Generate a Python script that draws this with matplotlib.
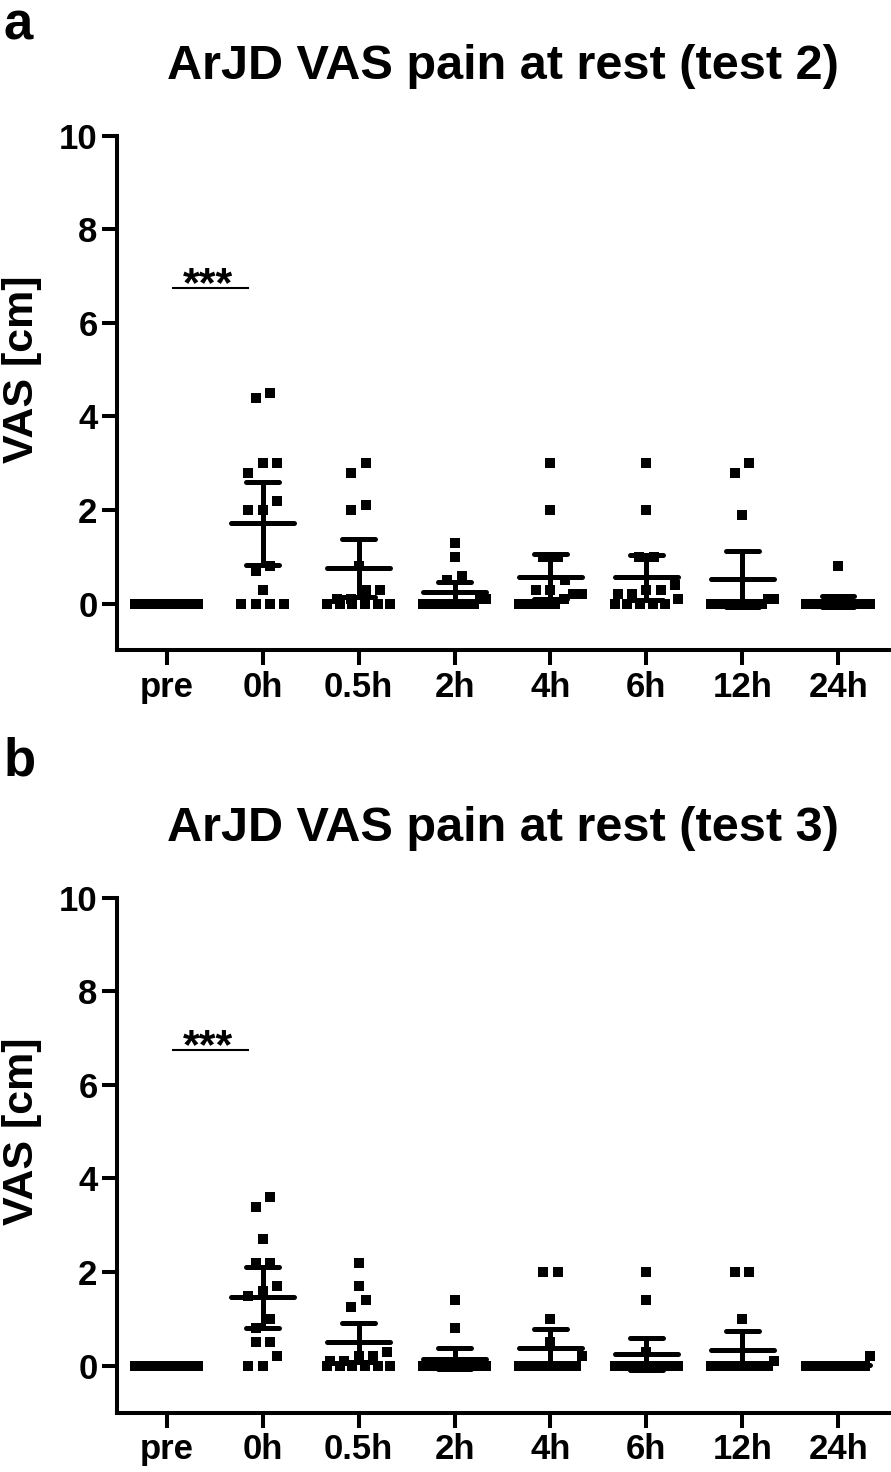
import numpy as np
import matplotlib
matplotlib.use('Agg')
import matplotlib.pyplot as plt
from matplotlib.transforms import blended_transform_factory

plt.rcParams['font.family'] = ['Liberation Sans', 'DejaVu Sans']
plt.rcParams['font.weight'] = 'bold'

# time points
times = ['pre', '0h', '0.5h', '2h', '4h', '6h', '12h', '24h']

# test 2 (panel a), VAS [cm] per subject
a_pre = [0.0] * 15
a_0h = [4.5, 4.4, 3.0, 3.0, 2.8, 2.2, 2.0, 2.0, 0.8, 0.7, 0.3, 0.0, 0.0, 0.0, 0.0]
a_05h = [3.0, 2.8, 2.1, 2.0, 0.8, 0.3, 0.3, 0.1, 0.1, 0.0, 0.0, 0.0, 0.0, 0.0, 0.0]
a_2h = [1.3, 1.0, 0.6, 0.5, 0.1, 0.1, 0.0, 0.0, 0.0, 0.0, 0.0, 0.0, 0.0, 0.0, 0.0]
a_4h = [3.0, 2.0, 1.0, 1.0, 0.5, 0.3, 0.3, 0.2, 0.2, 0.1, 0.0, 0.0, 0.0, 0.0, 0.0]
a_6h = [3.0, 2.0, 1.0, 1.0, 0.4, 0.3, 0.3, 0.2, 0.2, 0.1, 0.0, 0.0, 0.0, 0.0, 0.0]
a_12h = [3.0, 2.8, 1.9, 0.1, 0.1, 0.0, 0.0, 0.0, 0.0, 0.0, 0.0, 0.0, 0.0, 0.0, 0.0]
a_24h = [0.8, 0.0, 0.0, 0.0, 0.0, 0.0, 0.0, 0.0, 0.0, 0.0, 0.0, 0.0, 0.0, 0.0, 0.0]

# test 3 (panel b)
b_pre = [0.0] * 15
b_0h = [3.6, 3.4, 2.7, 2.2, 2.2, 1.7, 1.6, 1.5, 1.0, 0.8, 0.5, 0.5, 0.2, 0.0, 0.0]
b_05h = [2.2, 1.7, 1.4, 1.25, 0.3, 0.2, 0.2, 0.1, 0.1, 0.0, 0.0, 0.0, 0.0, 0.0, 0.0]
b_2h = [1.4, 0.8, 0.0, 0.0, 0.0, 0.0, 0.0, 0.0, 0.0, 0.0, 0.0, 0.0, 0.0, 0.0, 0.0]
b_4h = [2.0, 2.0, 1.0, 0.5, 0.2, 0.0, 0.0, 0.0, 0.0, 0.0, 0.0, 0.0, 0.0, 0.0, 0.0]
b_6h = [2.0, 1.4, 0.3, 0.0, 0.0, 0.0, 0.0, 0.0, 0.0, 0.0, 0.0, 0.0, 0.0, 0.0, 0.0]
b_12h = [2.0, 2.0, 1.0, 0.1, 0.0, 0.0, 0.0, 0.0, 0.0, 0.0, 0.0, 0.0, 0.0, 0.0, 0.0]
b_24h = [0.2, 0.0, 0.0, 0.0, 0.0, 0.0, 0.0, 0.0, 0.0, 0.0, 0.0, 0.0, 0.0, 0.0, 0.0]

panels = [
    ('a', 'ArJD VAS pain at rest (test 2)',
     [a_pre, a_0h, a_05h, a_2h, a_4h, a_6h, a_12h, a_24h]),
    ('b', 'ArJD VAS pain at rest (test 3)',
     [b_pre, b_0h, b_05h, b_2h, b_4h, b_6h, b_12h, b_24h]),
]

sig_text = '***'
sig_y = 6.75

T_CRIT = 2.145  # t(0.975, df=14), 95% CI for n = 15


def swarm_offsets(vals, ystep=0.22, dx=0.15, half=0.33):
    """Spread points that overlap vertically into rows (GraphPad-like scatter)"""
    vals = np.asarray(vals, dtype=float)
    order = np.argsort(-vals, kind='stable')
    rows = []
    for i in order:
        if rows and rows[-1][0] - vals[i] < ystep:
            rows[-1][1].append(i)
        else:
            rows.append([vals[i], [i]])
    offs = np.zeros(len(vals))
    for _, idx in rows:
        idx = idx[::-1]
        k = len(idx)
        step = min(dx, 2 * half / (k - 1)) if k > 1 else 0.0
        offs[idx] = (np.arange(k) - (k - 1) / 2) * step
    return offs


fig = plt.figure(figsize=(8.91, 14.72), dpi=100)

axes_rects = [(0.1313, 0.5581, 0.8664, 0.3498),
              (0.1313, 0.0404, 0.8664, 0.3498)]
label_y = [0.9735, 0.4735]

for (letter, title, groups), rect, ly in zip(panels, axes_rects, label_y):
    ax = fig.add_axes(rect)

    for i, vals in enumerate(groups):
        vals = np.asarray(vals, dtype=float)
        x = i + swarm_offsets(vals)
        ax.plot(x, vals, 's', color='black', markersize=7.2,
                markeredgewidth=0, zorder=2)

        m = vals.mean()
        ci = T_CRIT * vals.std(ddof=1) / np.sqrt(len(vals))
        kw = dict(color='black', lw=3.6, solid_capstyle='round', zorder=3)
        ax.plot([i - 0.33, i + 0.33], [m, m], **kw)
        ax.plot([i, i], [m - ci, m + ci], **kw)
        ax.plot([i - 0.17, i + 0.17], [m + ci, m + ci], **kw)
        ax.plot([i - 0.17, i + 0.17], [m - ci, m - ci], **kw)

    # significance bar pre vs 0h
    ax.plot([0.06, 0.85], [sig_y, sig_y], color='black', lw=1.5)
    ax.text(0.43, sig_y - 0.17, sig_text, ha='center', va='baseline',
            fontsize=31, fontweight='bold')

    ax.set_xlim(-0.52, 7.53)
    ax.set_ylim(-1.0, 10.0)
    ax.set_xticks(np.arange(len(times)))
    ax.set_xticklabels(times)
    ax.set_yticks([0, 2, 4, 6, 8, 10])

    for s in ['top', 'right']:
        ax.spines[s].set_visible(False)
    for s in ['left', 'bottom']:
        ax.spines[s].set_linewidth(2.9)
    ax.tick_params(axis='both', direction='out', length=10.5, width=2.9,
                   labelsize=25)
    ax.tick_params(axis='x', pad=4.5)
    ax.tick_params(axis='y', pad=3.5)

    trans = blended_transform_factory(ax.transAxes, ax.transData)
    ax.text(-0.123, 5.0, 'VAS [cm]', transform=trans, rotation=90,
            ha='center', va='center', fontsize=31, fontweight='bold')

    ax.set_title(title, fontsize=35, fontweight='bold', pad=41)
    fig.text(0.004, ly, letter, fontsize=38, fontweight='bold',
             ha='left', va='baseline')

fig.savefig('out.png', dpi=100)
